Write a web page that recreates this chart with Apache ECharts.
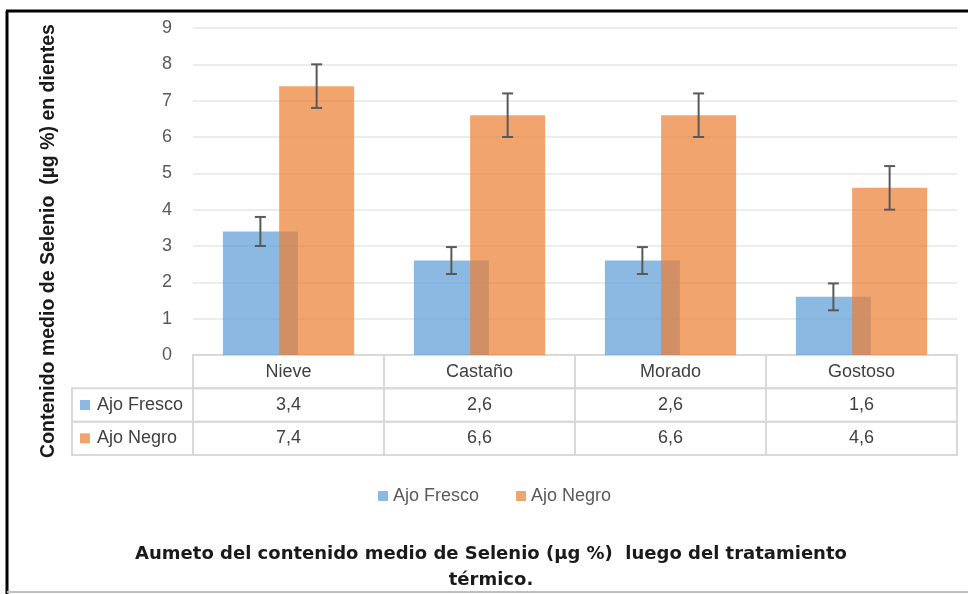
<!DOCTYPE html>
<html>
<head>
<meta charset="utf-8">
<script src="https://cdn.jsdelivr.net/npm/echarts@6/dist/echarts.min.js"></script>
<style>
  html, body { margin: 0; padding: 0; background: #fff; }
  #chart { width: 968px; height: 594px; }
</style>
</head>
<body>
<div id="chart"></div>
<script>
// --- datos ---
const categories = ['Nieve', 'Castaño', 'Morado', 'Gostoso'];
const ajoFresco = [3.4, 2.6, 2.6, 1.6];
const ajoNegro = [7.4, 6.6, 6.6, 4.6];
const errFresco = [0.4, 0.37, 0.37, 0.37];
const errNegro = [0.6, 0.6, 0.6, 0.6];
const seriesNames = ['Ajo Fresco', 'Ajo Negro'];
const colors = ['#5B9BD5', '#ED7D31'];

const BAR_W = 75;
const BAR_GAP = -0.25;
const FONT = "'Liberation Sans', Arial, sans-serif";

const fmt = v => v.toFixed(1).replace('.', ',');

// barras de error (centradas en cada barra)
const errorSeries = (values, errs, sign) => ({
  type: 'custom',
  xAxisIndex: 0,
  yAxisIndex: 0,
  z: 10,
  silent: true,
  data: values.map((v, i) => [i, v - errs[i], v + errs[i]]),
  renderItem: (params, api) => {
    const off = sign * BAR_W * (1 + BAR_GAP) / 2;
    const lo = api.coord([api.value(0), api.value(1)]);
    const hi = api.coord([api.value(0), api.value(2)]);
    const x = lo[0] + off;
    const cap = 5.5;
    const style = { stroke: '#595959', lineWidth: 2 };
    return {
      type: 'group',
      children: [
        { type: 'line', shape: { x1: x, y1: lo[1], x2: x, y2: hi[1] }, style },
        { type: 'line', shape: { x1: x - cap, y1: lo[1], x2: x + cap, y2: lo[1] }, style },
        { type: 'line', shape: { x1: x - cap, y1: hi[1], x2: x + cap, y2: hi[1] }, style }
      ]
    };
  }
});

// tabla de datos debajo del gráfico
const tableCells = [];
categories.forEach((c, i) => {
  tableCells.push([i, 0, c]);
  tableCells.push([i, 1, fmt(ajoFresco[i])]);
  tableCells.push([i, 2, fmt(ajoNegro[i])]);
});
const rowHeaders = seriesNames.map((n, k) => [0, k + 1, n, k]);
const HEADER_W = 121;
const cellBorder = { fill: 'none', stroke: '#d9d9d9', lineWidth: 2 };
const cellFont = '18px ' + FONT;

const chart = echarts.init(document.getElementById('chart'));
chart.setOption({
  animation: false,
  backgroundColor: '#fff',
  title: {
    text: 'Aumeto del contenido medio de Selenio (µg %)  luego del tratamiento\ntérmico.',
    left: 486,
    top: 536,
    textAlign: 'center',
    textStyle: {
      fontFamily: "'DejaVu Sans', 'Liberation Sans', sans-serif",
      fontWeight: 'bold',
      fontSize: 18,
      lineHeight: 26,
      color: '#1a1a1a'
    }
  },
  legend: {
    data: seriesNames,
    left: 373,
    top: 482,
    icon: 'rect',
    itemWidth: 10,
    itemHeight: 10,
    itemGap: 37,
    textStyle: { fontFamily: FONT, fontSize: 18, color: '#595959' }
  },
  grid: [
    { left: 193, right: 11, top: 28, height: 327 },
    { left: 193, right: 11, top: 355, height: 100 }
  ],
  xAxis: [
    {
      type: 'category',
      gridIndex: 0,
      data: categories,
      axisLine: { lineStyle: { color: '#d9d9d9', width: 2 } },
      axisTick: { show: false },
      axisLabel: { show: false }
    },
    {
      type: 'category',
      gridIndex: 1,
      data: categories,
      show: false
    }
  ],
  yAxis: [
    {
      type: 'value',
      gridIndex: 0,
      min: 0,
      max: 9,
      interval: 1,
      axisLine: { show: false },
      axisTick: { show: false },
      axisLabel: { margin: 21, fontFamily: FONT, fontSize: 18, color: '#595959' },
      splitLine: { lineStyle: { color: '#ececec', width: 2 } }
    },
    {
      type: 'category',
      gridIndex: 1,
      data: ['', seriesNames[0], seriesNames[1]],
      inverse: true,
      show: false
    }
  ],
  series: [
    {
      name: seriesNames[0],
      type: 'bar',
      data: ajoFresco,
      barWidth: BAR_W,
      barGap: (BAR_GAP * 100) + '%',
      itemStyle: { color: colors[0], opacity: 0.7 }
    },
    {
      name: seriesNames[1],
      type: 'bar',
      data: ajoNegro,
      barWidth: BAR_W,
      barGap: (BAR_GAP * 100) + '%',
      itemStyle: { color: colors[1], opacity: 0.7 }
    },
    errorSeries(ajoFresco, errFresco, -1),
    errorSeries(ajoNegro, errNegro, 1),
    {
      type: 'custom',
      xAxisIndex: 1,
      yAxisIndex: 1,
      silent: true,
      data: tableCells,
      renderItem: (params, api) => {
        const c = api.coord([api.value(0), api.value(1)]);
        const s = api.size([1, 1]);
        const txt = tableCells[params.dataIndex][2];
        return {
          type: 'group',
          children: [
            { type: 'rect', shape: { x: c[0] - s[0] / 2, y: c[1] - s[1] / 2, width: s[0], height: s[1] }, style: cellBorder },
            { type: 'text', style: { text: txt, x: c[0], y: c[1], align: 'center', verticalAlign: 'middle', font: cellFont, fill: '#404040' } }
          ]
        };
      }
    },
    {
      type: 'custom',
      xAxisIndex: 1,
      yAxisIndex: 1,
      silent: true,
      data: rowHeaders,
      renderItem: (params, api) => {
        const c = api.coord([api.value(0), api.value(1)]);
        const s = api.size([1, 1]);
        const row = rowHeaders[params.dataIndex];
        const x = c[0] - s[0] / 2 - HEADER_W;
        return {
          type: 'group',
          children: [
            { type: 'rect', shape: { x: x, y: c[1] - s[1] / 2, width: HEADER_W, height: s[1] }, style: cellBorder },
            { type: 'rect', shape: { x: x + 8, y: c[1] - 5, width: 10, height: 10 }, style: { fill: colors[row[3]], opacity: 0.7 } },
            { type: 'text', style: { text: row[2], x: x + 25, y: c[1], align: 'left', verticalAlign: 'middle', font: cellFont, fill: '#404040' } }
          ]
        };
      }
    }
  ],
  graphic: [
    {
      type: 'text',
      x: 49,
      y: 241,
      rotation: Math.PI / 2,
      style: {
        text: 'Contenido medio de Selenio  (µg %) en dientes',
        align: 'center',
        verticalAlign: 'middle',
        font: "bold 19.5px 'Liberation Sans', Arial, sans-serif",
        fill: '#1a1a1a'
      }
    },
    { type: 'line', shape: { x1: 6, y1: 11, x2: 968, y2: 11 }, style: { stroke: '#000', lineWidth: 3 } },
    { type: 'line', shape: { x1: 7, y1: 11, x2: 7, y2: 594 }, style: { stroke: '#000', lineWidth: 3 } },
    { type: 'line', shape: { x1: 7, y1: 592, x2: 968, y2: 592 }, style: { stroke: '#bfbfbf', lineWidth: 2 } }
  ]
});
</script>
</body>
</html>
